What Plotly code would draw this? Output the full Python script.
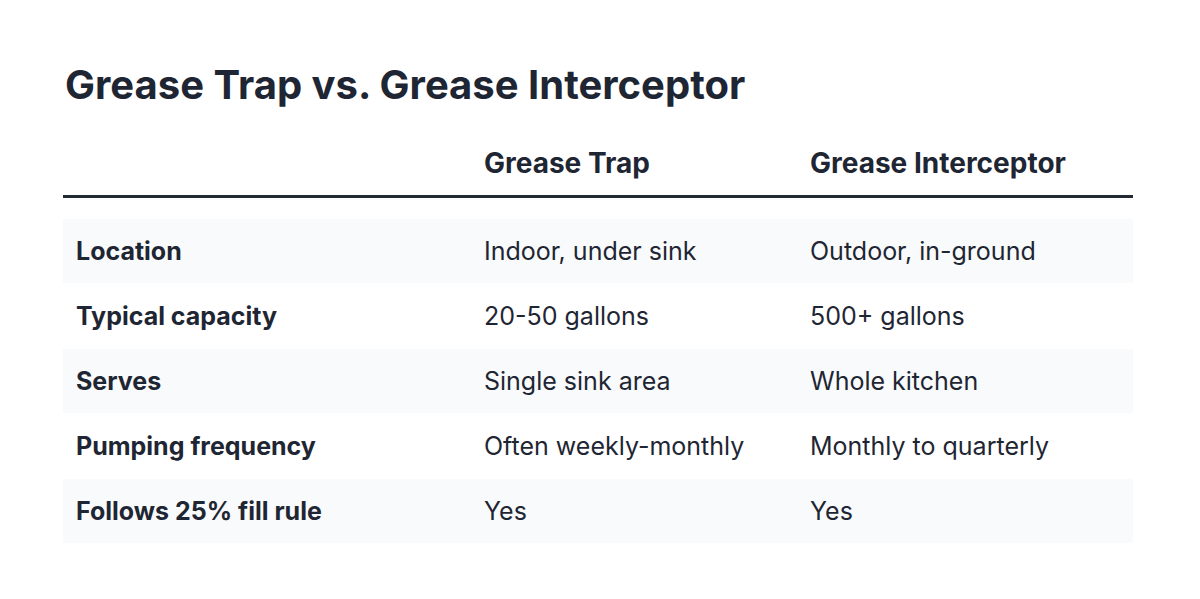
import plotly.graph_objects as go

title = "Grease Trap vs. Grease Interceptor"
headers = ["", "Grease Trap", "Grease Interceptor"]
row_labels = ["Location", "Typical capacity", "Serves", "Pumping frequency", "Follows 25% fill rule"]
trap_vals = ["Indoor, under sink", "20-50 gallons", "Single sink area", "Often weekly-monthly", "Yes"]
interceptor_vals = ["Outdoor, in-ground", "500+ gallons", "Whole kitchen", "Monthly to quarterly", "Yes"]

W, H = 1200, 599
dx, dy = -10, -7
col_x = [76 + dx, 484 + dx, 810 + dx]
row_y0, row_h = 250 + dy, 65
text_c = "#1f2633"
font = "Inter"

fig = go.Figure()
shapes = []
ann = []
ann.append(dict(x=65 + dx, y=83 + dy, text=f"<b>{title}</b>", font=dict(size=40, color=text_c, family=font)))
for i, h in enumerate(headers):
    if h:
        ann.append(dict(x=col_x[i], y=162 + dy, text=f"<b>{h}</b>", font=dict(size=28, color=text_c, family=font)))
shapes.append(dict(type="line", x0=65 + dx, x1=1135 + dx, y0=195.5 + dy, y1=195.5 + dy,
                   line=dict(color="#222b33", width=3)))
for r, (lab, a, b) in enumerate(zip(row_labels, trap_vals, interceptor_vals)):
    yc = row_y0 + r * row_h
    if r % 2 == 0:
        shapes.append(dict(type="rect", x0=65 + dx, x1=1135 + dx, y0=yc - 32, y1=yc + 32,
                           fillcolor="#f9fafb", line=dict(width=0), layer="below"))
    ann.append(dict(x=col_x[0], y=yc, text=f"<b>{lab}</b>", font=dict(size=25, color=text_c, family=font)))
    ann.append(dict(x=col_x[1], y=yc, text=a, font=dict(size=25, color=text_c, family=font)))
    ann.append(dict(x=col_x[2], y=yc, text=b, font=dict(size=25, color=text_c, family=font)))
for a in ann:
    a.update(xref="x", yref="y", xanchor="left", yanchor="middle", showarrow=False)

fig.update_layout(width=W, height=H, margin=dict(l=0, r=0, t=0, b=0),
                  paper_bgcolor="white", plot_bgcolor="white",
                  shapes=shapes, annotations=ann, showlegend=False,
                  xaxis=dict(range=[0, W], visible=False, fixedrange=True),
                  yaxis=dict(range=[H, 0], visible=False, fixedrange=True))
fig.write_html("out.html", config={"displayModeBar": False})
